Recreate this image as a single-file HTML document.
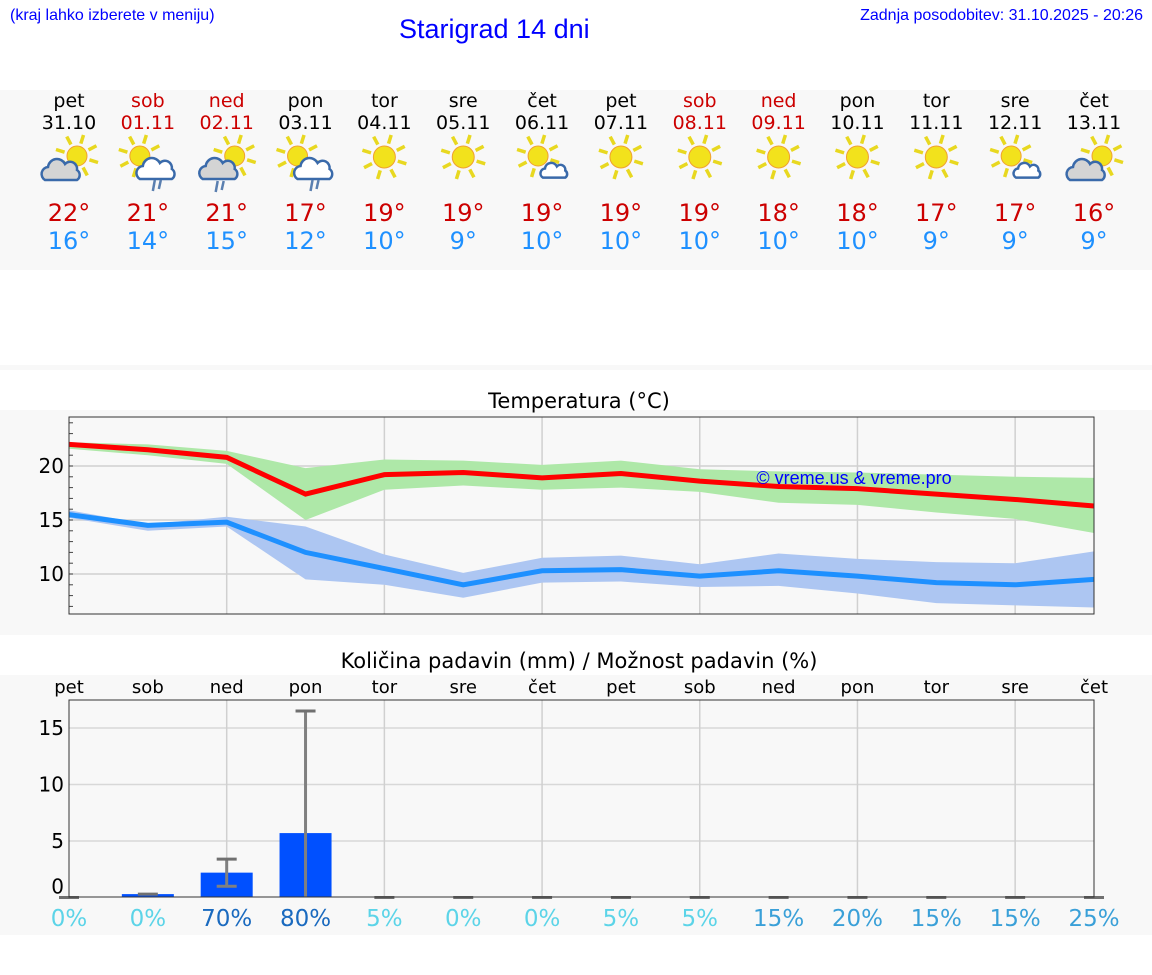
<!DOCTYPE html>
<html><head><meta charset="utf-8"><style>
body{margin:0;width:1152px;height:975px;background:#fff;position:relative;overflow:hidden;font-family:"DejaVu Sans","Liberation Sans",sans-serif}
.t{position:absolute;white-space:nowrap}
</style></head><body>
<div class="t" style="left:10px;top:7px;font:16px 'Liberation Sans',sans-serif;color:#0000ff">(kraj lahko izberete v meniju)</div>
<div class="t" style="left:399px;top:14px;font:27px 'Liberation Sans',sans-serif;color:#0000ff">Starigrad 14 dni</div>
<div class="t" style="right:9px;top:7px;font:16px 'Liberation Sans',sans-serif;color:#0000ff">Zadnja posodobitev: 31.10.2025 - 20:26</div>
<svg id="s" width="1152" height="975" style="position:absolute;left:0;top:0"></svg>
<script>
const days=['pet','sob','ned','pon','tor','sre','čet','pet','sob','ned','pon','tor','sre','čet'];
const dates=['31.10','01.11','02.11','03.11','04.11','05.11','06.11','07.11','08.11','09.11','10.11','11.11','12.11','13.11'];
const holiday=[0,1,1,0,0,0,0,0,1,1,0,0,0,0];
const icons=[0,1,2,1,3,3,4,3,3,3,3,3,4,0];
const hiT=[22,21,21,17,19,19,19,19,19,18,18,17,17,16];
const loT=[16,14,15,12,10,9,10,10,10,10,10,9,9,9];
const maxLine=[22,21.5,20.8,17.4,19.2,19.4,18.9,19.3,18.6,18.1,17.9,17.4,16.9,16.3];
const maxHi=[22.2,22.0,21.4,19.8,20.6,20.5,20.1,20.5,19.7,19.5,19.4,19.2,19.0,18.9];
const maxLo=[21.6,21.0,20.2,15.0,17.8,18.2,17.8,18.0,17.6,16.6,16.4,15.7,15.1,13.8];
const minLine=[15.5,14.5,14.8,12.0,10.5,9.0,10.3,10.4,9.8,10.3,9.8,9.2,9.0,9.5];
const minHi=[15.9,14.6,15.3,14.4,11.8,10.1,11.5,11.7,10.9,11.9,11.4,11.1,11.0,12.1];
const minLo=[15.2,14.0,14.4,9.5,9.0,7.8,9.2,9.3,8.8,8.9,8.2,7.3,7.1,6.9];
const rain=[0,0.3,2.2,5.7,0,0,0,0,0,0,0,0,0,0];
const rainLo=[0,0.3,1.0,0,0,0,0,0,0,0,0,0,0,0];
const rainHi=[0,0.3,3.4,16.5,0,0,0,0,0,0,0,0,0,0];
const prob=[0,0,70,80,5,0,0,5,5,15,20,15,15,25];
const tTicks=[10,15,20];
const rTicks=[0,5,10,15];

const s=document.getElementById('s');const NS='http://www.w3.org/2000/svg';
function el(tag,a,p){const e=document.createElementNS(NS,tag);for(const k in a)e.setAttribute(k,a[k]);(p||s).appendChild(e);return e;}
function txt(x,y,str,a){const e=el('text',Object.assign({x:x,y:y,'text-anchor':'middle','font-family':'DejaVu Sans, sans-serif'},a));e.textContent=str;return e;}
const X=i=>69+i*(1094-69)/13;
el('rect',{x:0,y:90,width:1152,height:180,fill:'#f8f8f8'});
el('rect',{x:0,y:365,width:1152,height:5,fill:'#f8f8f8'});
el('rect',{x:0,y:410,width:1152,height:225,fill:'#f8f8f8'});
el('rect',{x:0,y:675,width:1152,height:260,fill:'#f8f8f8'});
function sun(g,cx,cy,r){for(let k=0;k<8;k++){const a=k*Math.PI/4+0.3;el('line',{x1:cx+Math.cos(a)*(r+3),y1:cy+Math.sin(a)*(r+3),x2:cx+Math.cos(a)*(r+12),y2:cy+Math.sin(a)*(r+12),stroke:'#e8d820','stroke-width':3.5},g);}el('circle',{cx:cx,cy:cy,r:r,fill:'#f2e21c',stroke:'#f0a030','stroke-width':1},g);}
function cloud(g,cx,cy,sc,fill){const d=`M${cx-16*sc},${cy+8*sc} a${7*sc},${7*sc} 0 0 1 ${3*sc},${-13*sc} a${9*sc},${9*sc} 0 0 1 ${17*sc},${-3*sc} a${7*sc},${7*sc} 0 0 1 ${12*sc},${6*sc} a${6*sc},${6*sc} 0 0 1 ${0},${10*sc} z`;el('path',{d:d,fill:fill,stroke:'#3a6aaa','stroke-width':2.5},g);}
function rainM(g,cx,cy){el('line',{x1:cx,y1:cy,x2:cx-2,y2:cy+11,stroke:'#5a7fb0','stroke-width':2.5},g);el('line',{x1:cx+6,y1:cy,x2:cx+4,y2:cy+9,stroke:'#5a7fb0','stroke-width':2.5},g);}
for(let i=0;i<14;i++){const x=X(i),col=holiday[i]?'#cc0000':'#000';
 const g=el('g',{});
 txt(x,107,days[i],{'font-size':19,fill:col},g);txt(x,129,dates[i],{'font-size':19,fill:col},g);
 const ic=icons[i];
 if(ic===0){sun(g,x+8,156,10);cloud(g,x-8,172,1,'#d4d4d4');}
 else if(ic===1){sun(g,x-8,156,10);cloud(g,x+8,171,1,'#fff');rainM(g,x+7,180);}
 else if(ic===2){sun(g,x+8,156,10);cloud(g,x-8,171,1,'#d4d4d4');rainM(g,x-9,181);}
 else if(ic===3){sun(g,x,157,11);}
 else {sun(g,x-4,156,10);cloud(g,x+12,172,0.7,'#fff');}
 txt(x,221,hiT[i]+'°',{'font-size':24,fill:'#cc0000'},g);txt(x,249,loT[i]+'°',{'font-size':24,fill:'#1e90ff'},g);}
const TY=v=>466+(20-v)*10.8;
txt(579,408,'Temperatura (°C)',{'font-size':21,fill:'#000'});
const tg=el('g',{});
el('rect',{x:69,y:417,width:1025,height:197,fill:'#f8f8f8'},tg);
tTicks.forEach(v=>{el('line',{x1:69,x2:1094,y1:TY(v),y2:TY(v),stroke:'#d0d0d0','stroke-width':1.5},tg);txt(64,TY(v)+7,v,{'font-size':20,'text-anchor':'end'},tg);});
for(let v=7;v<=24;v++)el('line',{x1:69,x2:73,y1:TY(v),y2:TY(v),stroke:'#444'},tg);
for(let i=2;i<14;i+=2)el('line',{x1:X(i),x2:X(i),y1:417,y2:614,stroke:'#d0d0d0','stroke-width':1.5},tg);
function band(hi,lo,fill,name){const p=hi.map((v,i)=>X(i)+','+TY(v)).concat(lo.map((v,i)=>X(i)+','+TY(v)).reverse());const e=el('polygon',{points:p.join(' '),fill:fill},tg);}
band(maxHi,maxLo,'#aee8a8','max-temp-band');band(minHi,minLo,'#adc6f2','min-temp-band');
const l1=el('polyline',{points:maxLine.map((v,i)=>X(i)+','+TY(v)).join(' '),fill:'none',stroke:'#ff0000','stroke-width':5},tg);

const l2=el('polyline',{points:minLine.map((v,i)=>X(i)+','+TY(v)).join(' '),fill:'none',stroke:'#1e90ff','stroke-width':5},tg);

txt(854,484,'© vreme.us & vreme.pro',{'font-size':18,fill:'#0000ff','font-family':'Liberation Sans, sans-serif'},tg);
el('rect',{x:69,y:417,width:1025,height:197,fill:'none',stroke:'#333','stroke-width':1},tg);
const RY=v=>897.5-v*11.3;
txt(579,668,'Količina padavin (mm) / Možnost padavin (%)',{'font-size':21,fill:'#000'});
const rg=el('g',{});
rTicks.forEach(v=>{if(v>0)el('line',{x1:69,x2:1094,y1:RY(v),y2:RY(v),stroke:'#d8d8d8','stroke-width':1.5},rg);txt(64,RY(v)+(v?7:-4),v,{'font-size':20,'text-anchor':'end'},rg);});
for(let i=2;i<14;i+=2)el('line',{x1:X(i),x2:X(i),y1:700,y2:897,stroke:'#d0d0d0','stroke-width':1.5},rg);
for(let i=0;i<14;i++){txt(X(i),693,days[i],{'font-size':18},rg);
 if(rain[i]>0){const b=el('rect',{x:X(i)-26,y:RY(rain[i]),width:52,height:RY(0)-RY(rain[i]),fill:'#0050ff'},rg);}
 if(rainHi[i]>rainLo[i])el('line',{x1:X(i),x2:X(i),y1:RY(rainHi[i]),y2:RY(rainLo[i]),stroke:'#808080','stroke-width':3},rg);
 el('line',{x1:X(i)-10,x2:X(i)+10,y1:RY(rainHi[i]),y2:RY(rainHi[i]),stroke:'#707070','stroke-width':3},rg);
 if(rainLo[i]>0&&rainHi[i]>rainLo[i])el('line',{x1:X(i)-10,x2:X(i)+10,y1:RY(rainLo[i]),y2:RY(rainLo[i]),stroke:'#808080','stroke-width':3},rg);
 const p=prob[i],c=p>=50?'#1a6abf':(p>=15?'#3aa0d8':'#5cd4e8');
 txt(X(i),926,p+'%',{'font-size':23,fill:c},rg);}
el('rect',{x:69,y:700,width:1025,height:197,fill:'none',stroke:'#333','stroke-width':1},rg);
</script>
</body></html>
